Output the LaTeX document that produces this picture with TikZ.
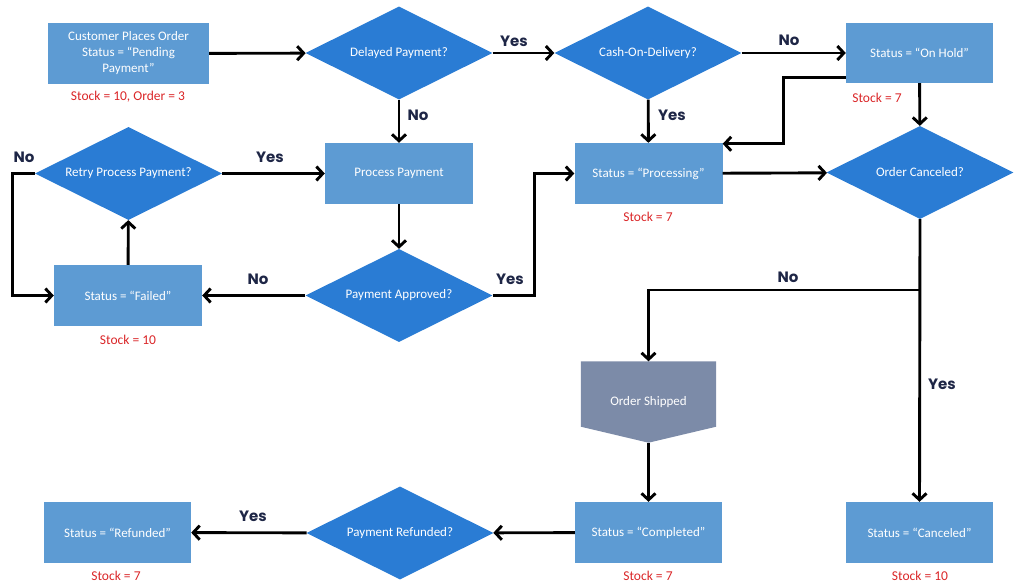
\documentclass[tikz,border=0pt]{standalone}
\usepackage{fontspec}
\setmainfont{Carlito}
\newfontfamily\lblfont{Poppins}
\usepackage{xcolor}
\usetikzlibrary{arrows.meta,positioning,calc,shapes.geometric,backgrounds}
\definecolor{boxblue}{RGB}{93,155,211}
\definecolor{diablue}{RGB}{42,124,212}
\definecolor{shipgray}{RGB}{124,139,168}
\definecolor{stockred}{RGB}{218,38,40}
\definecolor{lblnavy}{RGB}{30,38,70}

\begin{document}
\begin{tikzpicture}[x=1pt, y=-1pt, >={Straight Barb[length=6.5pt,width=14pt]},
  flow/.style={->, line width=2.9pt},
  box/.style={rectangle, fill=boxblue, text=white, minimum width=148,
    minimum height=61, inner sep=0pt, align=center,
    font=\fontsize{13}{16}\selectfont},
  decision/.style={diamond, fill=diablue, text=white, minimum width=187,
    minimum height=93, inner sep=0pt, aspect=2,
    font=\fontsize{13}{16}\selectfont},
  stock/.style={text=stockred, inner sep=0pt, font=\fontsize{13.5}{16}\selectfont},
  lbl/.style={text=lblnavy, inner sep=0pt, font=\lblfont\bfseries\fontsize{15}{18}\selectfont}]
  \useasboundingbox (0,0) rectangle (1024,586);

  % top row
  \node[box, minimum width=161, minimum height=60] (start) at (128.5,53.5)
    {Customer Places Order\\Status = “Pending\\Payment”};
  \node[decision] (delay) at (399,53) {Delayed Payment?};
  \node[decision] (cod) at (648,53) {Cash-On-Delivery?};
  \node[box, minimum width=147, minimum height=60] (hold) at (919.5,53) {Status = “On Hold”};

  % second row
  \node[decision] (retry) at (128.5,173.5) {Retry Process Payment?};
  \node[box] (pay) at (399,173.5) {Process Payment};
  \node[box] (proc) at (648.5,173.5) {Status = “Processing”};
  \node[decision] (cancq) at (920,172.5) {Order Canceled?};

  % third row
  \node[box] (failed) at (128,295.5) {Status = “Failed”};
  \node[decision] (appr) at (399,295.5) {Payment Approved?};

  % shipped (pointed box)
  \node[rectangle, text=white, minimum width=135, minimum height=81,
    inner sep=0pt, font=\fontsize{13}{16}\selectfont] (ship) at (648.5,402)
    {Order Shipped};
  \begin{scope}[on background layer]
    \fill[shipgray] (ship.north west) -- (ship.north east)
      -- ($(ship.south east)+(0,-16)$) -- (ship.south)
      -- ($(ship.south west)+(0,-16)$) -- cycle;
  \end{scope}

  % bottom row
  \node[box, minimum width=147] (refund) at (117.5,532.5) {Status = “Refunded”};
  \node[decision] (refq) at (400,533) {Payment Refunded?};
  \node[box, minimum width=147] (done) at (648.5,532.5) {Status = “Completed”};
  \node[box, minimum width=147] (cancel) at (919.5,532.5) {Status = “Canceled”};

  % stock notes
  \node[stock] (s1) at (128,97) {Stock = 10, Order = 3};
  \node[stock] (s2) at (877,98) {Stock = 7};
  \node[stock] (s3) at (648,217) {Stock = 7};
  \node[stock] (s4) at (128,340) {Stock = 10};
  \node[stock] (s5) at (116,576) {Stock = 7};
  \node[stock] (s6) at (648,576) {Stock = 7};
  \node[stock] (s7) at (920,576) {Stock = 10};

  % connectors
  \draw[flow] (start) -- (delay);
  \draw[flow] (delay) -- (cod);
  \draw[flow] (cod) -- (hold);
  \draw[flow] (delay) -- (pay);
  \draw[flow] (cod) -- (proc);
  \draw[flow] ($(hold.south west)+(0,-6)$) -- ++(-62,0)
    |- ($(proc.north east)+(0,1)$);
  \draw[flow] (hold) -- (cancq);
  \draw[flow] (proc) -- (cancq);
  \draw[flow] (pay) -- (appr);
  \draw[flow] (appr) -- (failed);
  \draw[flow] (appr.east) -- ++(42,0) |- (proc.west);
  \draw[flow] (failed) -- (retry);
  \draw[flow] (retry) -- (pay);
  \draw[flow] (retry.west) -- ++(-22,0) |- (failed.west);
  \coordinate (split) at (920,290);
  \draw[flow] (cancq.south) -- (cancel.north);
  \draw[flow] (split) -| (ship.north);
  \draw[flow] (ship.south) -- (done.north);
  \draw[flow] (done) -- (refq);
  \draw[flow] (refq) -- (refund);

  % branch labels
  \node[lbl] (l1) at (514,41) {Yes};
  \node[lbl] (l2) at (789,40) {No};
  \node[lbl] (l3) at (418,115) {No};
  \node[lbl] (l4) at (672,115) {Yes};
  \node[lbl] (l5) at (270,157) {Yes};
  \node[lbl] (l6) at (24,157) {No};
  \node[lbl] (l7) at (258,279) {No};
  \node[lbl] (l8) at (510,279) {Yes};
  \node[lbl] (l9) at (788,277) {No};
  \node[lbl] (l10) at (942,384) {Yes};
  \node[lbl] (l11) at (253,516) {Yes};
\end{tikzpicture}
\end{document}
